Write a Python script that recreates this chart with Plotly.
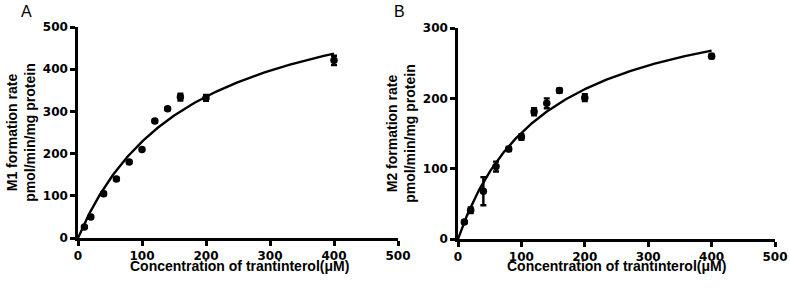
import numpy as np
import plotly.graph_objects as go

# ---- data ----
conc = [10, 20, 40, 60, 80, 100, 120, 140, 160, 200, 400]

m1_rate = [26, 50, 105, 140, 180, 210, 277, 306, 334, 332, 421]
m1_err = [2, 3, 4, 3, 3, 3, 3, 3, 8, 7, 11]

m2_rate = [24, 41, 68, 103, 128, 145, 181, 193, 211, 201, 260]
m2_err = [2, 4, 20, 7, 3, 4, 5, 7, 3, 5, 3]

# Michaelis-Menten fit parameters (Vmax, Km)
m1_fit = (628, 175)
m2_fit = (361, 139)

x_ticks = [0, 100, 200, 300, 400, 500]
m1_ticks = [0, 100, 200, 300, 400, 500]
m2_ticks = [0, 100, 200, 300]

xlabel = "Concentration of trantinterol(μM)"
m1_label = "M1 formation rate<br>pmol/min/mg protein"
m2_label = "M2 formation rate<br>pmol/min/mg protein"

# ---- figure ----
FONT = "Liberation Sans, Arial, sans-serif"
W, H = 790, 288

def px_x(p):
    return p / W

def px_y(p):
    return 1 - p / H

fig = go.Figure()

s_curve = np.linspace(0, 400, 200)

def add_panel(rates, errs, fit, xa, ya):
    vmax, km = fit
    fig.add_trace(go.Scatter(
        x=s_curve, y=vmax * s_curve / (km + s_curve), mode="lines",
        line=dict(color="black", width=2.4), xaxis=xa, yaxis=ya,
        showlegend=False, hoverinfo="skip", cliponaxis=False))
    fig.add_trace(go.Scatter(
        x=conc, y=rates, mode="markers",
        marker=dict(color="black", size=7.5),
        error_y=dict(type="data", array=errs, color="black", thickness=2.4, width=3),
        xaxis=xa, yaxis=ya, showlegend=False, cliponaxis=False))

add_panel(m1_rate, m1_err, m1_fit, "x", "y")
add_panel(m2_rate, m2_err, m2_fit, "x2", "y2")

def bold(vals):
    return [f"<b>{v}</b>" for v in vals]

axis_common = dict(
    showgrid=False, zeroline=False, showline=True, linecolor="black", linewidth=2.5,
    ticks="outside", ticklen=5, tickwidth=2.5, tickcolor="black", automargin=False,
    tickfont=dict(family="DejaVu Sans, sans-serif", size=12, color="black"),
)
title_font = dict(family=FONT, size=14, color="black")

xa_dom = [px_x(78), px_x(398)]
xb_dom = [px_x(458), px_x(775)]

fig.update_layout(
    width=W, height=H,
    margin=dict(l=0, r=0, t=0, b=0),
    paper_bgcolor="white", plot_bgcolor="white",
    xaxis=dict(domain=xa_dom, range=[0, 500], tickvals=x_ticks, ticktext=bold(x_ticks),
               anchor="y", **axis_common),
    yaxis=dict(domain=[px_y(238), px_y(27)], range=[0, 500], tickvals=m1_ticks, ticktext=bold(m1_ticks),
               title=dict(text=f"<b>{m1_label}</b>", font=title_font, standoff=4), anchor="x", **axis_common),
    xaxis2=dict(domain=xb_dom, range=[0, 500], tickvals=x_ticks, ticktext=bold(x_ticks),
                anchor="y2", **axis_common),
    yaxis2=dict(domain=[px_y(239), px_y(28)], range=[0, 300], tickvals=m2_ticks, ticktext=bold(m2_ticks),
                title=dict(text=f"<b>{m2_label}</b>", font=title_font, standoff=4), anchor="x2", **axis_common),
    annotations=[
        dict(text="A", x=px_x(19), y=px_y(12), xref="paper", yref="paper",
             xanchor="left", yanchor="middle", showarrow=False,
             font=dict(family=FONT, size=16, color="black")),
        dict(text="B", x=px_x(392), y=px_y(12), xref="paper", yref="paper",
             xanchor="left", yanchor="middle", showarrow=False,
             font=dict(family=FONT, size=16, color="black")),
        dict(text=f"<b>{xlabel}</b>", x=(xa_dom[0] + xa_dom[1]) / 2 + 1 / W, y=px_y(266),
             xref="paper", yref="paper", xanchor="center", yanchor="middle", showarrow=False,
             font=title_font),
        dict(text=f"<b>{xlabel}</b>", x=(xb_dom[0] + xb_dom[1]) / 2, y=px_y(266),
             xref="paper", yref="paper", xanchor="center", yanchor="middle", showarrow=False,
             font=title_font),
    ],
)

fig.write_html("out.html", config={"displayModeBar": False},
               post_script="document.body.style.margin='0';")
